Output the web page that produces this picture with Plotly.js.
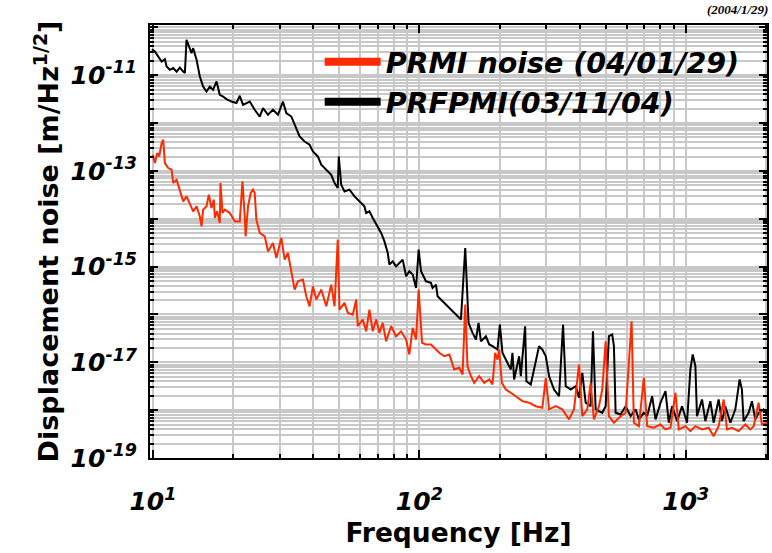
<!DOCTYPE html>
<html><head><meta charset="utf-8">
<script src="https://cdn.plot.ly/plotly-3.0.1.min.js"></script>
<style>html,body{margin:0;padding:0;background:#fff}</style>
</head><body>
<div id="chart" style="width:772px;height:553px"></div>
<script>
// PRFPMI (03/11/04) — black
const freqPRFPMI = [9.9,10.17,10.47,10.78,11.09,11.25,11.58,11.91,12.27,12.62,12.99,13.18,13.37,13.68,13.96,14.16,14.58,15.0,15.43,15.89,16.35,16.82,17.33,17.82,18.34,18.88,19.72,20.58,21.18,21.79,23.09,24.1,25.17,25.9,27.03,28.22,29.47,30.76,31.67,33.08,34.53,35.53,37.1,38.73,39.85,41.6,42.84,44.74,46.7,48.05,49.4,49.85,50.9,52.37,54.67,57.1,59.6,62.2,63.15,64.97,66.85,69.8,71.9,73.96,76.1,77.2,79.4,81.8,86.6,89.2,91.7,94.4,97.2,99.4,101.5,105.9,110.6,112.1,115.5,117.1,122.3,129.6,137.3,143.3,148.7,153,158.4,163.1,166.8,170.3,177.8,182.9,188.2,196.5,200.6,205.1,214.1,220.5,223.6,226.9,236.9,240.4,249.5,252.3,262,273.5,281.4,289.6,298.3,306.9,320.4,334.5,346.3,354.4,370,386.4,397.5,409,421,439.5,448.4,459,486,500.3,514.7,529.7,537.5,545.5,569.4,594.6,620.8,648,666.8,696.2,716.3,747.9,770,804,839.5,863.7,888.7,928,969,1011,1041,1062,1087,1102,1151,1185,1237,1273,1329,1368,1408,1471,1535,1593,1625,1649,1722,1772,1824,1877,1959,2016];
const ampPRFPMI = [3.5e-11,3.13e-11,2.45e-11,1.93e-11,2.17e-11,1.52e-11,1.30e-11,1.41e-11,1.19e-11,1.45e-11,1.19e-11,1.11e-11,5.48e-11,3.97e-11,2.89e-11,3.68e-11,2.10e-11,9.4e-12,5.8e-12,4.57e-12,5.8e-12,4.95e-12,7.4e-12,3.9e-12,3.59e-12,3.17e-12,2.82e-12,2.62e-12,3.72e-12,2.41e-12,2.82e-12,1.90e-12,1.37e-12,2.06e-12,1.49e-12,1.90e-12,1.49e-12,2.82e-12,1.62e-12,1.37e-12,7.24e-13,5.25e-13,4.13e-13,3.52e-13,2.55e-13,2.01e-13,1.35e-13,1.06e-13,8.3e-14,5.6e-14,4.4e-14,2.01e-13,5.15e-14,3.73e-14,4.06e-14,2.94e-14,2.31e-14,1.82e-14,1.32e-14,1.43e-14,1.04e-14,6.93e-15,5.06e-15,3.37e-15,1.93e-15,1.10e-15,1.29e-15,1.01e-15,1.40e-15,6.28e-16,7.98e-16,6.81e-16,3.59e-16,2.26e-15,7.98e-16,4.93e-16,4.57e-16,3.59e-16,4.21e-16,2.40e-16,1.89e-16,1.37e-16,9.95e-17,7.83e-17,2.45e-15,6.68e-17,4.13e-17,2.99e-17,6.68e-17,2.75e-17,3.51e-17,2.36e-17,2.17e-17,1.85e-17,6.15e-17,1.58e-17,9.8e-18,7.08e-18,1.58e-17,4.38e-18,1.34e-17,5.13e-18,5.68e-17,4.03e-18,3.44e-18,1.14e-17,2.17e-17,1.85e-17,1.34e-17,5.13e-18,2.70e-18,1.96e-18,6.15e-17,3.17e-18,2.70e-18,3.17e-18,1.82e-18,6.04e-18,1.43e-18,1.21e-18,4.46e-17,1.04e-18,8.8e-19,1.21e-18,3.51e-17,3.80e-17,2.17e-17,8.8e-19,8.1e-19,1.21e-18,7.5e-19,1.04e-18,6.4e-19,8.8e-19,7.5e-19,1.96e-18,6.4e-19,1.43e-18,2.49e-18,5.46e-19,1.21e-18,5.9e-19,1.21e-18,5.46e-19,7.08e-18,1.46e-17,8.3e-18,7.5e-19,1.67e-18,5.9e-19,1.54e-18,5.46e-19,1.67e-18,5.9e-19,1.21e-18,5.46e-19,1.04e-18,4.38e-18,2.70e-18,5.9e-19,8.8e-19,1.54e-18,6.4e-19,8.8e-19,1.04e-18,8.1e-19];

// PRMI noise (04/01/29) — red
const freqPRMI = [9.97,10.17,10.38,10.56,10.78,10.93,11.09,11.41,11.75,11.91,12.27,12.62,12.99,13.37,13.76,14.16,14.58,15.0,15.22,15.43,15.89,16.21,16.59,16.92,17.07,17.41,17.82,17.93,18.24,18.61,19.43,20.28,21.18,21.68,22.11,22.28,22.75,23.28,23.75,24.1,24.45,25.17,26.28,27.03,28.22,29.06,30.34,31.22,32.12,33.08,34.03,35.02,36.55,37.64,38.73,39.85,41.03,42.84,44.74,46.7,48.05,49.4,50.15,52.37,53.9,56.27,57.94,58.74,61.33,63.15,64.97,66.85,68.85,70.83,72.87,75.04,78.34,81.8,85.4,89.2,91.7,94.4,97.2,99.4,102.4,105.9,110.6,115.5,118.8,124.1,129.6,135.2,141.2,145.3,148.7,151.6,156.2,160.7,167.8,175.2,182.9,188.2,192.6,196.5,199.3,204,211.2,220.5,230.2,243.8,258.2,273.5,289.6,298.3,306.9,325.1,344.2,364.6,380.6,397.5,409,426.9,439.5,452.1,472.3,486,500.3,514.7,537.5,561.2,594.6,611.8,626.2,638.8,666.8,696.2,716.3,758.8,804,839.5,876.5,915.1,941.7,997.5,1041,1087,1151,1219,1273,1329,1388,1428,1491,1579,1673,1747,1799,1877,1931,2016];
const ampPRMI = [2.18e-13,1.46e-13,2.37e-13,2.01e-13,3.83e-13,4.48e-13,1.46e-13,1.15e-13,1.06e-13,5.6e-14,6.55e-14,4.06e-14,2.31e-14,2.94e-14,1.97e-14,1.43e-14,1.82e-14,1.12e-14,6.93e-15,1.55e-14,1.82e-14,3.18e-14,1.68e-14,2.51e-14,1.04e-14,1.43e-14,8.2e-15,5.6e-14,1.32e-14,1.55e-14,1.32e-14,8.83e-15,8.8e-15,6.04e-14,1.12e-14,4.30e-15,1.82e-14,3.46e-14,4.06e-14,3.46e-14,9.57e-15,5.06e-15,4.30e-15,2.08e-15,3.13e-15,1.52e-15,3.97e-15,1.40e-15,1.93e-15,7.4e-16,3.31e-16,4.93e-16,5.36e-16,2.40e-16,1.48e-16,3.88e-16,2.05e-16,3.31e-16,1.48e-16,4.21e-16,1.48e-16,3.66e-15,1.26e-16,1.75e-16,1.08e-16,9.95e-17,2.05e-16,5.68e-17,7.83e-17,4.46e-17,1.26e-16,4.46e-17,7.83e-17,4.13e-17,6.68e-17,2.75e-17,5.68e-17,3.51e-17,4.46e-17,2.99e-17,1.46e-17,5.25e-17,2.99e-17,3.31e-16,2.55e-17,2.36e-17,2.36e-17,1.85e-17,1.58e-17,1.34e-17,1.46e-17,7.08e-18,7.67e-18,5.56e-18,1.61e-16,8.3e-18,5.13e-18,3.73e-18,5.13e-18,3.73e-18,4.38e-18,3.44e-18,1.58e-17,1.14e-17,1.85e-17,3.73e-18,2.70e-18,2.31e-18,1.96e-18,1.54e-18,1.43e-18,1.21e-18,1.12e-18,4.74e-18,1.04e-18,1.21e-18,1.04e-18,6.4e-19,1.04e-18,8.99e-18,7.5e-19,1.04e-18,3.73e-18,6.4e-19,1.21e-18,2.70e-18,2.75e-17,7.5e-19,5.46e-19,6.93e-19,8.8e-19,9.8e-18,7.21e-17,5.46e-19,4.63e-19,4.74e-18,4.63e-19,4.29e-19,5.02e-19,3.95e-19,4.29e-19,2.31e-18,3.95e-19,4.63e-19,3.65e-19,4.63e-19,3.95e-19,4.29e-19,2.86e-19,4.63e-19,1.67e-18,3.95e-19,4.29e-19,3.65e-19,5.02e-19,3.95e-19,4.63e-19,1.43e-18,5.02e-19,5.46e-19];

const seriesNames = ['PRMI noise (04/01/29)', 'PRFPMI(03/11/04)'];
const seriesColors = ['#ff2a00', '#000000'];

const xTickVals = [10, 100, 1000];
const xTickText = ['10<sup>1</sup>', '10<sup>2</sup>', '10<sup>3</sup>'];
const yTickVals = [1e-19, 1e-18, 1e-17, 1e-16, 1e-15, 1e-14, 1e-13, 1e-12, 1e-11, 1e-10];
const yTickText = ['10<sup>-19</sup>', '', '10<sup>-17</sup>', '', '10<sup>-15</sup>', '', '10<sup>-13</sup>', '', '10<sup>-11</sup>', ''];

const xMinor = [];
[10, 100, 1000].forEach(d => { for (let m = 2; m <= 9; m++) xMinor.push(m * d); });
const yMinor = [];
yTickVals.forEach(d => { for (let m = 2; m <= 9; m++) yMinor.push(m * d); });

const tickFont = {family: 'DejaVu Sans', size: 25, weight: 'bold', style: 'italic', color: '#000'};
const gridCol = '#c8c8c8';

const traces = [
  {x: freqPRFPMI, y: ampPRFPMI, mode: 'lines', line: {color: seriesColors[1], width: 2}, showlegend: false, hoverinfo: 'skip'},
  {x: freqPRMI, y: ampPRMI, mode: 'lines', line: {color: seriesColors[0], width: 2}, showlegend: false, hoverinfo: 'skip'},
  {x: [null], y: [null], mode: 'lines', line: {color: seriesColors[0], width: 8}, name: seriesNames[0]},
  {x: [null], y: [null], mode: 'lines', line: {color: seriesColors[1], width: 8}, name: seriesNames[1]}
];

const axisCommon = {
  type: 'log', tickmode: 'array', ticks: 'inside', ticklen: 8, tickwidth: 2, tickcolor: '#000',
  showline: true, linewidth: 2, linecolor: '#000', mirror: 'allticks',
  showgrid: true, gridcolor: gridCol, gridwidth: 2, zeroline: false, tickfont: tickFont
};

const layout = {
  width: 772, height: 553,
  margin: {l: 150, r: 5, t: 25, b: 95},
  paper_bgcolor: '#fff', plot_bgcolor: '#fff',
  showlegend: true,
  xaxis: Object.assign({}, axisCommon, {
    range: [0.989, 3.305], tickvals: xTickVals, ticktext: xTickText, ticklabelstandoff: 20,
    minor: {tickmode: 'array', tickvals: xMinor, ticks: 'inside', ticklen: 4, tickwidth: 2, tickcolor: '#000', showgrid: true, gridcolor: gridCol, gridwidth: 2},
    title: {text: 'Frequency [Hz]', font: {family: 'DejaVu Sans', size: 26.5, weight: 'bold', color: '#000'}, standoff: 8}
  }),
  yaxis: Object.assign({}, axisCommon, {
    range: [-19, -9.95], tickvals: yTickVals, ticktext: yTickText, ticklabelstandoff: 6,
    minor: {tickmode: 'array', tickvals: yMinor, ticks: 'inside', ticklen: 4, tickwidth: 2, tickcolor: '#000', showgrid: true, gridcolor: gridCol, gridwidth: 2},
    title: {text: 'Displacement noise [m/Hz<sup>1/2</sup>]', font: {family: 'DejaVu Sans', size: 27, weight: 'bold', color: '#000'}, standoff: 4}
  }),
  legend: {
    x: 0.275, y: 0.973, xanchor: 'left', yanchor: 'top', bgcolor: 'rgba(0,0,0,0)', borderwidth: 0,
    itemwidth: 56, traceorder: 'normal',
    font: {family: 'DejaVu Sans', size: 28.5, weight: 'bold', style: 'italic', color: '#000'}
  },
  annotations: [{
    text: '(2004/1/29)', xref: 'paper', yref: 'paper', x: 1.005, y: 1, xanchor: 'right', yanchor: 'bottom', yshift: 6,
    showarrow: false, font: {family: 'Liberation Serif', size: 13, weight: 'bold', style: 'italic', color: '#000'}
  }]
};

Plotly.newPlot('chart', traces, layout, {displayModeBar: false, staticPlot: true});
</script>
</body></html>
